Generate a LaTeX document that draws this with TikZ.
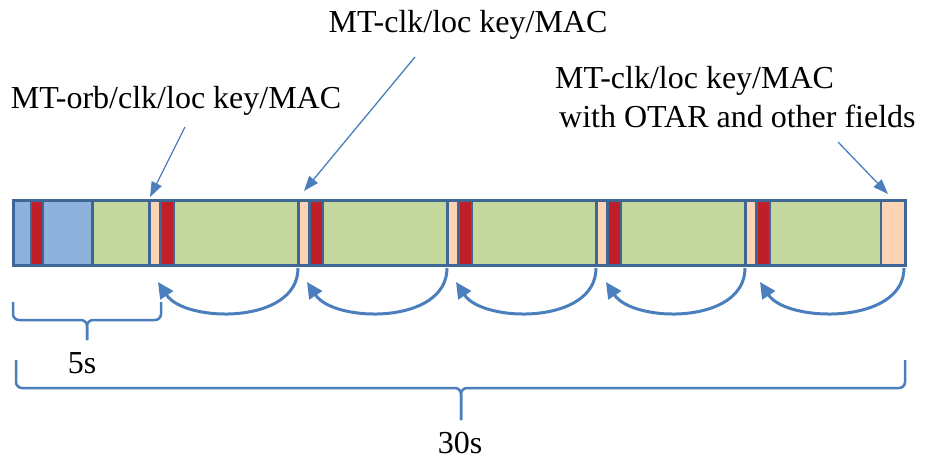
\documentclass[tikz,border=0pt]{standalone}
\usepackage{fontspec}
\setmainfont{Liberation Serif}
\usetikzlibrary{arrows.meta}
\definecolor{bord}{HTML}{3E6795}
\definecolor{lblue}{HTML}{8FB2DD}
\definecolor{cred}{HTML}{C01F2A}
\definecolor{cgreen}{HTML}{C4D79C}
\definecolor{peach}{HTML}{FCD4B4}
\definecolor{arr}{HTML}{4A7EBC}
\begin{document}
\begin{tikzpicture}[x=1pt,y=-1pt,
 lbl/.style={font=\rmfamily\fontsize{32}{39}\selectfont, inner sep=0pt},
 ptr/.style={draw=arr, line width=1.3pt, -{Triangle[length=15pt,width=11pt]}},
 loopar/.style={draw=arr, line width=3pt, -{Triangle[length=16pt,width=15pt]}},
 brace/.style={draw=arr, line width=2.5pt, rounded corners=6pt},
 ]
\path[use as bounding box] (0,0) rectangle (934,466);
% bar
\fill[bord] (12,199) rectangle (906.5,267);
\fill[lblue] (14.5,202) rectangle (29.5,264);
\fill[cred] (31.5,202) rectangle (41.5,264);
\fill[lblue] (43.5,202) rectangle (90.5,264);
\fill[cgreen] (94,202) rectangle (148,264);
\foreach \p in {149,298,447,596,745} {
  \fill[peach] (\p+2,202) rectangle (\p+10,264);
  \fill[cred] (\p+13,202) rectangle (\p+24,264);
}
\foreach \p in {149,298,447,596} {
  \fill[cgreen] (\p+25.5,202) rectangle (\p+148,264);
}
\fill[cgreen] (770.5,202) rectangle (880,264);
\fill[peach] (882,202) rectangle (904,264);
% labels
\node[lbl] (top) at (468,25) {MT-clk/loc key/MAC};
\node[lbl] (left) at (176,101) {MT-orb/clk/loc key/MAC};
\node[lbl, align=left, anchor=north west] (right) at (555,66) {MT-clk/loc key/MAC\\\hspace{4pt}with OTAR and other fields};
% pointer arrows
\coordinate (a1s) at (185,127); \coordinate (a1e) at (150,197);
\coordinate (a2s) at (415,57);  \coordinate (a2e) at (304,191);
\coordinate (a3s) at (838,142); \coordinate (a3e) at (888,194);
\draw[ptr] (a1s) -- (a1e);
\draw[ptr] (a2s) -- (a2e);
\draw[ptr] (a3s) -- (a3e);
% loop arrows
\foreach \s/\t in {298/156, 447/305, 596/454, 745/604, 904/758} {
  \draw[loopar] (\s,268) .. controls (\s,325) and (\t+29,323) .. (\t+2,282);
}
% braces
\draw[brace] (13,302) -- (13,320) -- (87,320) -- (87,340);
\draw[brace] (161,302) -- (161,320) -- (87,320) -- (87,340);
\draw[brace] (16,360) -- (16,388) -- (461,388) -- (461,420);
\draw[brace] (905,360) -- (905,388) -- (461,388) -- (461,420);
\node[lbl] (five) at (82,363) {5s};
\node[lbl] (thirty) at (460,443) {30s};
\end{tikzpicture}
\end{document}
